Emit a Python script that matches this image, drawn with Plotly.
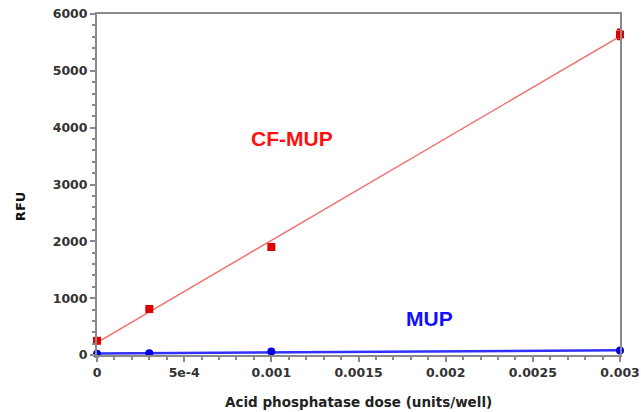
import numpy as np
import plotly.graph_objects as go

dose = [0, 0.0003, 0.001, 0.003]
cf_mup = [250, 810, 1900, 5640]
cf_mup_err = [20, 30, 40, 90]
mup = [20, 30, 60, 80]

x_tickvals = [0, 0.0005, 0.001, 0.0015, 0.002, 0.0025, 0.003]
x_ticktext = ["0", "5e-4", "0.001", "0.0015", "0.002", "0.0025", "0.003"]
y_tickvals = [0, 1000, 2000, 3000, 4000, 5000, 6000]

# linear fits
cf_fit = np.polyfit(dose, cf_mup, 1)
mup_fit = np.polyfit(dose, mup, 1)
fit_x = np.array([min(dose), max(dose)])

fig = go.Figure()
fig.add_trace(go.Scatter(x=fit_x, y=np.polyval(cf_fit, fit_x), mode="lines",
                         line=dict(color="#f07070", width=1.5), showlegend=False,
                         hoverinfo="skip", cliponaxis=False))
fig.add_trace(go.Scatter(x=fit_x, y=np.polyval(mup_fit, fit_x), mode="lines",
                         line=dict(color="#3030ff", width=2.5), showlegend=False,
                         hoverinfo="skip", cliponaxis=False))
fig.add_trace(go.Scatter(x=dose, y=cf_mup, mode="markers", name="CF-MUP",
                         marker=dict(symbol="square", size=8, color="#e00000"),
                         error_y=dict(type="data", array=cf_mup_err, color="#e00000",
                                      thickness=1.5, width=3),
                         cliponaxis=False, showlegend=False))
fig.add_trace(go.Scatter(x=dose, y=mup, mode="markers", name="MUP",
                         marker=dict(symbol="circle", size=8, color="#0000e0"),
                         cliponaxis=False, showlegend=False))

tick_font = dict(family="DejaVu Sans", size=12.5, color="#333333", weight="bold")
axis_common = dict(showgrid=False, zeroline=False, showline=True, linecolor="#8a8a8a",
                   linewidth=2, mirror=True, ticks="outside", tickcolor="#8a8a8a",
                   ticklen=5, tickwidth=1.5, tickfont=tick_font, automargin=False)

fig.update_xaxes(range=[0, 0.003], tickvals=x_tickvals, ticktext=x_ticktext,
                 minor=dict(dtick=0.0001, ticklen=3, tickcolor="#8a8a8a", ticks="outside"),
                 **axis_common)
fig.update_yaxes(range=[0, 6000], tickvals=y_tickvals,
                 minor=dict(dtick=200, ticklen=3, tickcolor="#8a8a8a", ticks="outside"),
                 **axis_common)

title_font = dict(family="DejaVu Sans", size=13.5, color="#222222", weight="bold")
fig.add_annotation(xref="paper", yref="paper", x=0.5, y=-0.138, yanchor="middle",
                   text="Acid phosphatase dose (units/well)", showarrow=False, font=title_font)
fig.add_annotation(xref="paper", yref="paper", x=-0.147, y=0.434, xanchor="center",
                   yanchor="middle", textangle=-90, text="RFU", showarrow=False,
                   font=dict(family="DejaVu Sans", size=13, color="#111111", weight="bold"))

fig.add_annotation(x=0.00112, y=3818, text="CF-MUP", showarrow=False,
                   font=dict(family="Liberation Sans, Arial", size=21, color="#ff1010",
                             weight="bold"))
fig.add_annotation(x=0.00191, y=651, text="MUP", showarrow=False,
                   font=dict(family="Liberation Sans, Arial", size=21, color="#1010ff",
                             weight="bold"))

fig.update_layout(width=641, height=412, margin=dict(l=97, r=21, t=14, b=57),
                  plot_bgcolor="white", paper_bgcolor="white")
fig.write_html("out.html", config={"displayModeBar": False},
               post_script="document.body.style.margin='0';")
